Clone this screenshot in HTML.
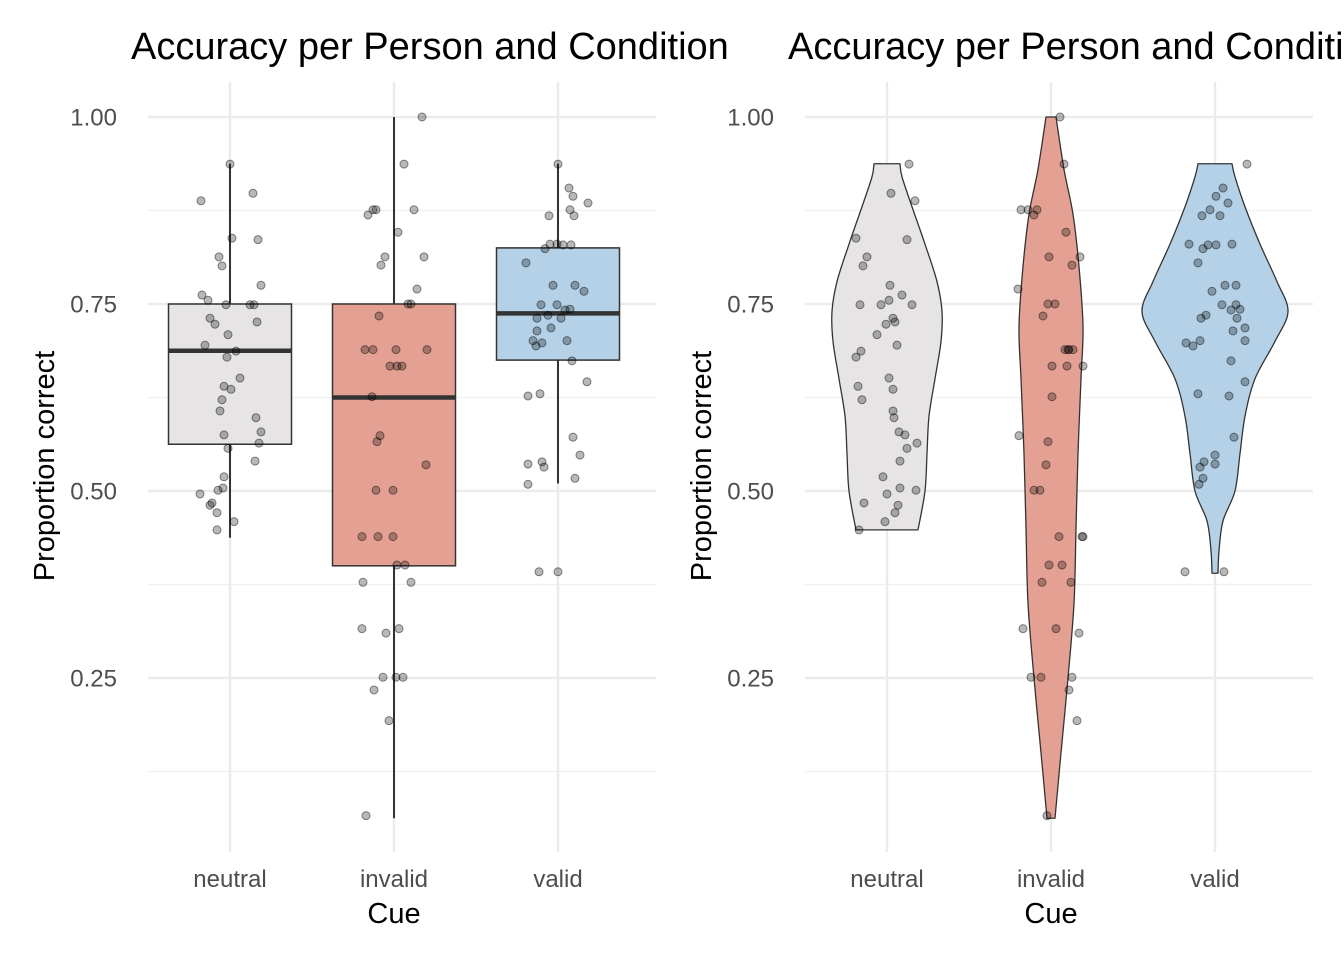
<!DOCTYPE html>
<html><head><meta charset="utf-8"><style>
body{margin:0;background:#fff;}
svg{display:block;font-family:"Liberation Sans",sans-serif;}
</style></head><body>
<svg id="chart" width="1344" height="960" viewBox="0 0 1344 960"></svg>
<script>
const categories=["neutral","invalid","valid"];
const yTicks=[0.25,0.5,0.75,1.0];
const yTickLabels=["0.25","0.50","0.75","1.00"];
const yMinor=[0.125,0.375,0.625,0.875];
// box stats: [whiskerLow, q1, median, q3, whiskerHigh]
const boxNeutral=[0.4375,0.5625,0.6875,0.75,0.9375];
const boxInvalid=[0.0625,0.40,0.625,0.75,1.0];
const boxValid=[0.51,0.675,0.7375,0.825,0.9375];
const ptsNeutral=[.888,.937,.898,.813,.801,.838,.836,.762,.755,.749,.749,.749,.775,.731,.723,.709,.726,.695,.687,.679,.640,.636,.651,.622,.607,.598,.579,.564,.575,.557,.540,.519,.504,.501,.496,.484,.481,.471,.459,.448];
const jitNeutral=[-29,0,23,-11,-8,2,28,-28,-22,-4,20,24,31,-20,-15,-2,27,-25,6,-3,-6,1,10,-8,-10,26,31,29,-6,-2,25,-6,-7,-12,-30,-18,-20,-13,4,-13];
const ptsInvalid=[1.0,.937,.876,.876,.876,.869,.846,.813,.802,.813,.770,.750,.750,.734,.689,.689,.689,.689,.667,.667,.667,.626,.574,.566,.501,.501,.439,.439,.439,.535,.401,.401,.378,.378,.316,.310,.316,.251,.251,.251,.234,.193,.066];
const jitInvalid=[28,10,20,-21,-18,-26,4,-9,-13,30,23,14,17,-15,-29,-21,2,33,-4,3,8,-22,-14,-17,-18,-1,-32,-16,-1,32,3,11,17,-31,-32,-8,5,-11,2,9,-20,-5,-28];
const ptsValid=[.937,.905,.894,.876,.868,.885,.868,.805,.830,.830,.829,.829,.824,.775,.775,.767,.749,.749,.742,.743,.731,.735,.731,.718,.714,.698,.701,.694,.701,.674,.627,.630,.646,.572,.548,.536,.539,.532,.517,.509,.392,.392];
const jitValid=[0,11,15,12,16,30,-9,-32,-8,-1,5,13,-13,-5,17,26,-17,-1,7,12,-21,-10,3,-7,-21,-16,-25,-22,9,14,-30,-18,29,15,22,-30,-16,-14,17,-30,-19,0];
// violin densities: value levels and half-widths (relative)
const vLevNeutral=[.448,.5,.55,.6,.65,.7,.74,.78,.83,.88,.92,.9375];
const vDenNeutral=[31,38,40,42,48,54,55,50,38,25,15,13];
const vLevInvalid=[.0625,.15,.25,.35,.45,.55,.65,.72,.8,.87,.93,1.0];
const vDenInvalid=[4,10,17,23,25,27,30,32,28,22,13,5];
const vLevValid=[.39,.42,.46,.5,.55,.6,.65,.7,.74,.78,.83,.88,.92,.9375];
const vDenValid=[3,4,8,20,25,30,40,60,73,62,45,30,20,17];

const fills=["#e6e4e4","#e4a193","#b4d1e7"];
const NS="http://www.w3.org/2000/svg";
const svg=document.getElementById("chart");
function mk(tag,attrs,parent){const e=document.createElementNS(NS,tag);for(const k in attrs)e.setAttribute(k,attrs[k]);(parent||svg).appendChild(e);return e;}
const yS=v=>117+(1-v)*748;
function smooth(P){let d="";for(let i=0;i<P.length-1;i++){const p0=P[Math.max(0,i-1)],p1=P[i],p2=P[i+1],p3=P[Math.min(P.length-1,i+2)];
  const c1=[p1[0]+(p2[0]-p0[0])/6,p1[1]+(p2[1]-p0[1])/6],c2=[p2[0]-(p3[0]-p1[0])/6,p2[1]-(p3[1]-p1[1])/6];
  d+=` C${c1[0]},${c1[1]} ${c2[0]},${c2[1]} ${p2[0]},${p2[1]}`;}return d;}

function panel(ox,kind){
  const g=mk("g",{});
  
  
  const xS=i=>ox+82+i*164;
  const left=ox,right=ox+508;
  yMinor.forEach(v=>{const l=mk("line",{x1:left,x2:right,y1:yS(v),y2:yS(v),stroke:"#f0f0f0","stroke-width":1.2},g);
    });
  yTicks.forEach((v,i)=>{const l=mk("line",{x1:left,x2:right,y1:yS(v),y2:yS(v),stroke:"#ebebeb","stroke-width":2.4},g);
    
    const t=mk("text",{x:ox-31,y:yS(v)+8.5,"text-anchor":"end","font-size":24,fill:"#4d4d4d"},g);t.textContent=yTickLabels[i];
    });
  categories.forEach((c,i)=>{const l=mk("line",{x1:xS(i),x2:xS(i),y1:82,y2:852,stroke:"#ebebeb","stroke-width":2.4},g);
    
    const t=mk("text",{x:xS(i),y:887,"text-anchor":"middle","font-size":24,fill:"#4d4d4d"},g);t.textContent=c;
    });
  const boxes=[boxNeutral,boxInvalid,boxValid];
  const vl=[vLevNeutral,vLevInvalid,vLevValid],vd=[vDenNeutral,vDenInvalid,vDenValid];
  if(kind==="box"){
    boxes.forEach((b,i)=>{const x=xS(i);
      const w=mk("line",{x1:x,x2:x,y1:yS(b[0]),y2:yS(b[4]),stroke:"#333","stroke-width":2},g);
      
      const r=mk("rect",{x:x-61.5,y:yS(b[3]),width:123,height:yS(b[1])-yS(b[3]),fill:fills[i],stroke:"#333","stroke-width":1.5},g);
      
      const m=mk("line",{x1:x-61.5,x2:x+61.5,y1:yS(b[2]),y2:yS(b[2]),stroke:"#333","stroke-width":4.5},g);
      
    });
  } else {
    vl.forEach((lev,i)=>{const x=xS(i),d=vd[i];
      const R=lev.map((v,k)=>[x+d[k],yS(v)]);
      const L=lev.map((v,k)=>[x-d[k],yS(v)]).reverse();
      let p="M"+R[0][0]+","+R[0][1]+smooth(R)+" L"+L[0][0]+","+L[0][1]+smooth(L)+"Z";
      const v=mk("path",{d:p,fill:fills[i],stroke:"#333","stroke-width":1.3,"stroke-linejoin":"round"},g);
      
    });
  }
  const pts=[ptsNeutral,ptsInvalid,ptsValid],jit=[jitNeutral,jitInvalid,jitValid];
  pts.forEach((arr,i)=>arr.forEach((v,k)=>{
    const dx=kind==="box"?jit[i][k]:-jit[i][(k+7)%jit[i].length];
    const c=mk("circle",{cx:xS(i)+dx,cy:yS(v),r:4,fill:"rgba(0,0,0,0.28)",stroke:"rgba(0,0,0,0.45)","stroke-width":1},g);
    
  }));
  const t=mk("text",{x:ox-17,y:59,"font-size":38,fill:"#000"},g);t.textContent="Accuracy per Person and Condition";
  
  const yt=mk("text",{x:0,y:0,"font-size":29,fill:"#000","text-anchor":"middle",transform:`translate(${ox-94},466) rotate(-90)`},g);yt.textContent="Proportion correct";
  
  const xt=mk("text",{x:xS(1),y:923,"font-size":29,fill:"#000","text-anchor":"middle"},g);xt.textContent="Cue";
  
}
panel(148,"box");
panel(805,"violin");
</script>
</body></html>
